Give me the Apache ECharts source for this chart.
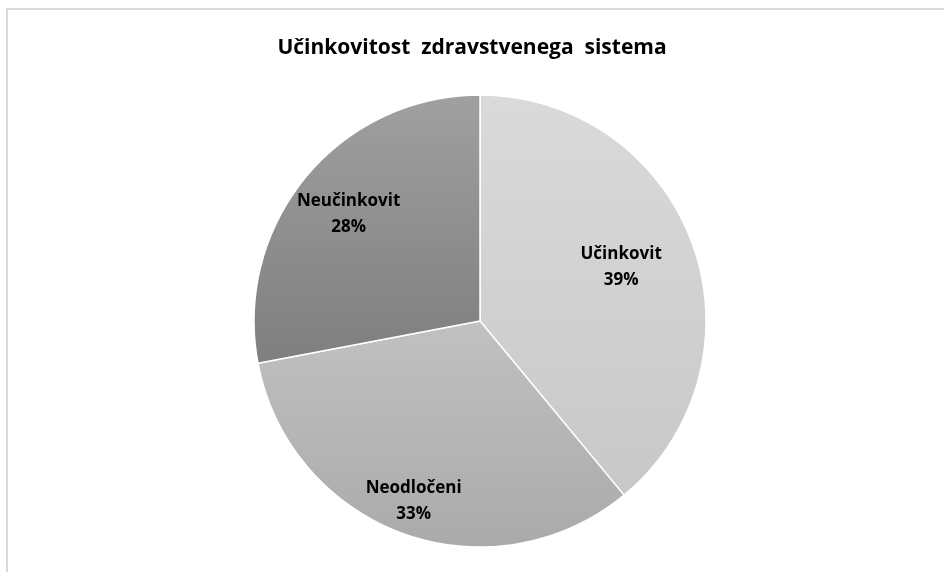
<!DOCTYPE html>
<html>
<head>
<meta charset="utf-8">
<script src="https://cdn.jsdelivr.net/npm/echarts@6/dist/echarts.min.js"></script>
<style>html,body{margin:0;padding:0;background:#fff}#c{width:944px;height:572px}</style>
</head>
<body>
<div id="c"></div>
<script>
const titleText = 'Učinkovitost  zdravstvenega  sistema';
const categories = ['Učinkovit', 'Neodločeni', 'Neučinkovit'];
const values = [39, 33, 28];
const colorTops = ['#dadada', '#c1c1c1', '#a0a0a0'];
const colorBottoms = ['#c8c8c8', '#aaaaaa', '#7e7e7e'];
const labelOffsets = [[32, -15], [-27, 71], [-42, -33]];

const chart = echarts.init(document.getElementById('c'), null, {renderer: 'canvas'});
const fontFam = '"Open Sans", "Noto Sans", sans-serif';
chart.setOption({
  backgroundColor: '#ffffff',
  animation: false,
  graphic: [{
    type: 'rect',
    shape: {x: 7, y: 9, width: 960, height: 600},
    style: {fill: 'none', stroke: '#d9d9d9', lineWidth: 2},
    silent: true
  }],
  title: {
    text: titleText,
    left: 'center',
    top: 33,
    textStyle: {fontFamily: fontFam, fontSize: 21, fontWeight: 'bold', color: '#000'}
  },
  series: [{
    type: 'pie',
    center: [480, 321],
    radius: [0, 226],
    startAngle: 90,
    clockwise: true,
    label: {
      show: true,
      position: 'inside',
      formatter: p => p.name + '\n' + p.value + '%',
      fontFamily: fontFam,
      fontSize: 17,
      fontWeight: 'bold',
      color: '#000',
      lineHeight: 26
    },
    labelLine: {show: false},
    itemStyle: {borderColor: '#ffffff', borderWidth: 1.5},
    emphasis: {disabled: true},
    data: categories.map((n, i) => ({
      name: n,
      value: values[i],
      label: {offset: labelOffsets[i]},
      itemStyle: {
        color: new echarts.graphic.LinearGradient(0, 0, 0, 1, [
          {offset: 0, color: colorTops[i]},
          {offset: 1, color: colorBottoms[i]}
        ])
      }
    }))
  }]
});
</script>
</body>
</html>
